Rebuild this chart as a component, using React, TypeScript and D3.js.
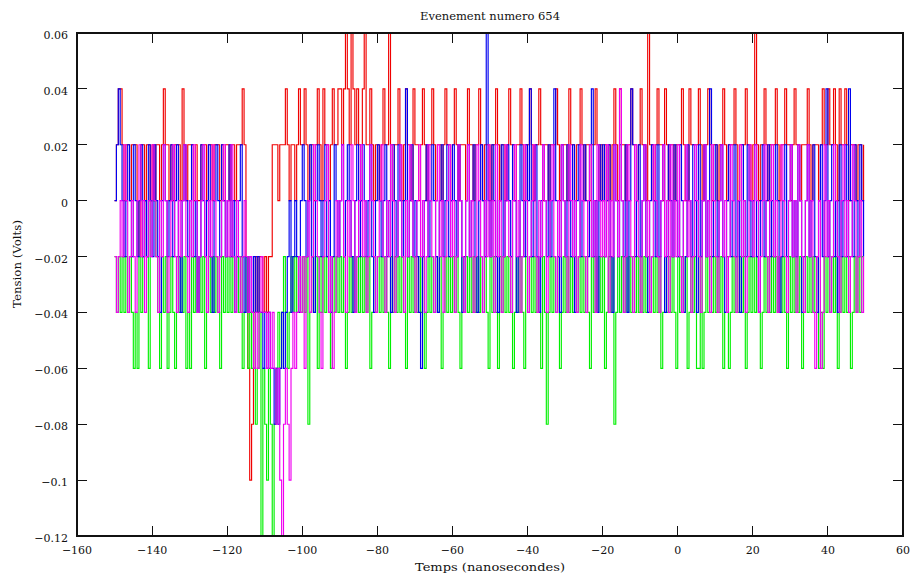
import React from "react";
import * as d3 from "d3";

// sample time base (ns)
const T0 = -150;
const DT = 0.5;

const xTicks = [-160, -140, -120, -100, -80, -60, -40, -20, 0, 20, 40, 60];
const yTicks = [0.06, 0.04, 0.02, 0, -0.02, -0.04, -0.06, -0.08, -0.1, -0.12];

const title = "Evenement numero 654";
const xTitle = "Temps (nanosecondes)";
const yTitle = "Tension (Volts)";

// channel 1 (red)
const red = [
  0, .02, .04, .04, .02, 0, .02, .02, 0, .02, .02, .02, 0, -.02, .02, .02, 0, .02, .02, 0,
  .02, 0, .02, .02, 0, .02, .04, .02, .02, 0, .02, 0, .02, .02, .02, 0, .04, .02, 0, .02,
  .02, .02, 0, .02, 0, 0, .02, .02, .02, 0, .02, .02, 0, .02, .02, .02, 0, .02, 0, .02,
  .02, 0, .02, .02, 0, .02, .02, .02, .04, .02, -.02, -.06, -.1, -.08, -.06, -.02, -.04, -.02, -.02, -.04,
  -.02, -.04, -.02, -.02, .02, .02, .02, 0, .02, .02, .02, .04, .02, 0, .02, .02, 0, .02, .04, .02,
  .02, .04, .02, 0, .02, .02, 0, .02, .04, .02, 0, .04, .02, .02, 0, .02, .04, .02, .02, .04,
  .04, .02, .04, .06, .04, .02, .06, .04, .02, .04, .02, 0, .04, .06, .02, .02, .04, .02, 0, .02,
  .02, 0, .02, .04, .02, .02, .06, .02, 0, .02, .02, .04, .02, 0, .02, .04, .02, .02, 0, .04,
  .02, .02, 0, .02, .04, .02, 0, .02, .02, .04, .02, 0, .02, .02, 0, .02, .04, .02, .02, 0,
  .02, .04, .02, 0, .02, .02, .02, 0, .04, .02, .02, 0, .02, .02, .04, .02, 0, .02, .02, .02,
  0, .02, .02, .04, .02, 0, .02, .02, 0, .02, .04, .02, .02, 0, .02, .02, .04, .02, 0, .02,
  .02, .04, .02, 0, .02, .02, .04, .02, 0, .02, .02, 0, .02, .02, .02, .04, .02, 0, .02, .02,
  .02, 0, .04, .02, .02, 0, .02, .02, .04, .02, 0, .02, .02, 0, .02, .02, .04, .02, 0, .02,
  0, .02, 0, .02, 0, .02, .04, .02, 0, .04, .02, .02, 0, .02, .02, .04, .02, .02, 0, .02,
  .04, .02, .02, 0, .06, .02, .02, 0, .02, .04, .02, .02, 0, .04, .02, 0, .02, .02, 0, .02,
  .02, .02, .04, .02, 0, 0, .04, .02, .02, .02, .02, .04, .02, 0, .02, .02, .04, .02, 0, .02,
  .02, 0, .02, .02, .04, .02, 0, .02, .02, .02, .04, .02, 0, .02, .02, .02, .04, .02, .02, 0,
  .02, .06, .02, 0, .02, .02, .04, .02, 0, .02, .02, .02, .04, .02, 0, .02, .02, .04, .02, .02,
  0, .02, .04, .02, .02, 0, .02, .02, .02, .04, .02, 0, .02, .02, .02, 0, .02, .04, .02, .02,
  .04, .02, .02, .04, .02, 0, .04, .02, .02, .04, .02, 0, .02, .02, .02, 0, .02, .02, 0, .02,
];

// channel 2 (green)
const green = [
  -.02, -.04, -.02, -.04, -.02, -.04, -.02, -.04, -.02, -.04, -.06, -.04, -.06, -.02, -.04, -.02, 0, -.02, -.06, 0,
  0, 0, -.02, -.04, -.06, -.02, -.04, -.02, -.06, -.04, -.02, -.04, -.06, -.02, -.04, -.02, -.04, -.02, -.06, -.04,
  -.06, -.02, -.04, -.02, -.04, -.02, -.04, -.02, -.06, -.04, -.02, -.04, -.02, -.04, -.02, -.04, -.06, -.02, -.04, -.02,
  -.04, -.02, -.04, -.02, -.04, -.02, -.04, -.02, -.06, -.04, -.02, -.06, -.04, -.06, -.04, -.08, -.06, -.04, -.12, -.06,
  -.08, -.1, -.06, -.08, -.12, -.08, -.06, -.04, -.06, -.04, -.02, -.04, -.06, -.04, -.02, -.04, -.02, -.04, -.02, -.04,
  -.02, -.04, -.02, -.08, -.04, -.02, -.04, -.02, -.06, -.02, -.04, -.02, -.04, -.02, -.04, -.06, -.02, -.04, -.02, -.04,
  -.02, -.04, -.02, -.06, -.04, -.02, -.04, -.02, -.04, -.02, -.04, -.02, -.04, -.02, -.04, -.02, -.06, -.04, -.02, -.04,
  -.02, -.04, -.02, -.04, -.02, -.04, -.06, -.02, -.04, -.02, -.04, -.02, -.04, -.02, -.04, -.06, -.02, -.04, -.02, -.04,
  -.02, -.04, -.02, -.04, -.02, -.06, -.04, -.02, -.04, -.02, -.04, -.02, -.04, -.02, -.06, -.04, -.02, -.04, -.02, -.04,
  -.02, -.04, -.02, -.04, -.06, -.02, -.04, -.02, -.04, -.02, -.04, -.02, -.04, -.02, -.04, -.02, -.04, -.02, -.04, -.06,
  -.02, -.04, -.02, -.04, -.06, -.02, -.04, -.02, -.04, -.02, -.04, -.02, -.06, -.04, -.02, -.04, -.02, -.04, -.06, -.02,
  -.04, -.02, -.04, -.02, -.04, -.02, -.04, -.06, -.02, -.04, -.08, -.04, -.02, -.04, -.02, -.04, -.02, -.06, -.04, -.02,
  -.04, -.02, -.04, -.02, -.04, -.02, -.04, -.02, -.04, -.02, -.04, -.02, -.04, -.06, -.02, -.04, -.02, -.04, -.02, -.04,
  -.02, -.06, -.04, -.02, -.04, -.02, -.08, -.04, -.02, -.04, -.02, -.04, -.02, -.04, -.02, -.04, -.02, -.04, -.02, -.04,
  -.02, -.04, -.02, -.04, -.02, -.04, -.02, -.04, -.02, -.04, -.02, -.06, -.04, -.02, -.04, -.02, -.04, -.02, -.04, -.06,
  -.02, -.04, -.02, -.04, -.02, -.06, -.04, -.02, -.04, -.02, -.06, -.06, -.02, -.06, -.04, -.02, -.04, -.02, -.04, -.02,
  -.04, -.02, -.04, -.02, -.06, -.04, -.02, -.06, -.04, -.02, -.04, -.02, -.04, -.02, -.04, -.02, -.06, -.04, -.02, -.04,
  -.02, -.04, -.02, -.04, -.06, -.04, -.02, -.04, -.02, -.04, -.02, -.04, -.02, -.04, -.02, -.04, -.02, -.04, -.06, -.02,
  -.04, -.02, -.04, -.02, -.04, -.02, -.06, -.04, -.02, -.04, -.02, -.04, -.02, -.04, -.02, -.06, -.04, -.06, -.02, -.04,
  -.02, -.04, -.02, -.04, -.02, -.06, -.04, -.02, -.04, -.02, -.04, -.02, -.06, -.04, -.02, -.04, -.02, -.04, -.02, -.02,
];

// channel 3 (blue)
const blue = [
  0, .02, .04, .02, 0, -.02, 0, .02, 0, -.02, .02, 0, -.02, 0, .02, -.02, 0, -.02, .02, 0,
  -.02, .02, 0, -.02, -.04, 0, .02, 0, -.02, 0, .02, -.02, 0, .02, -.02, -.04, 0, .02, 0, -.02,
  0, .02, -.02, 0, -.04, -.02, .02, 0, -.02, 0, .02, -.02, -.04, 0, .02, 0, -.02, .02, 0, -.02,
  0, .02, -.02, 0, -.04, -.02, 0, .02, -.02, -.04, -.02, -.04, -.02, -.04, -.02, -.04, -.02, -.04, -.04, -.06,
  -.04, -.06, -.04, -.06, -.06, -.08, -.06, -.08, -.06, -.04, -.06, -.04, -.02, 0, -.04, -.02, 0, -.02, -.04, 0,
  .02, 0, -.02, 0, .02, -.02, -.04, 0, .02, 0, -.02, 0, .02, -.02, 0, -.04, -.02, .02, 0, -.02,
  0, .02, -.02, 0, .02, 0, -.02, -.04, 0, .02, -.02, 0, .02, 0, -.02, 0, .02, -.02, -.04, 0,
  .02, 0, -.02, 0, .02, -.02, 0, -.04, .02, 0, -.02, .02, 0, -.02, 0, .04, -.02, 0, .02, -.02,
  0, -.02, -.04, -.06, -.02, 0, .02, -.02, 0, .02, 0, -.02, -.04, 0, .02, -.02, 0, .02, -.02, 0,
  .02, 0, -.02, .02, 0, -.04, -.02, 0, .02, -.02, 0, .02, -.02, -.04, 0, .02, 0, -.02, .06, 0,
  -.02, .02, 0, -.02, -.04, 0, .02, -.02, 0, .02, 0, -.02, .02, 0, -.04, -.02, .02, 0, -.02, .02,
  0, .04, -.02, 0, .02, -.02, -.04, 0, .02, 0, -.02, .02, -.02, 0, .04, 0, -.02, -.04, .02, 0,
  -.02, .02, 0, -.02, .02, -.04, 0, .02, -.02, 0, .02, 0, -.02, .02, .04, -.02, 0, -.04, .02, 0,
  .02, -.02, 0, .02, -.02, -.04, .02, 0, -.02, .02, 0, -.02, .02, -.04, 0, .04, .02, -.02, 0, .02,
  -.02, 0, .02, -.02, -.04, 0, .02, 0, -.02, .02, -.02, 0, .02, -.04, -.02, .02, 0, -.02, .02, 0,
  -.02, .02, 0, -.04, -.02, .02, 0, -.02, .02, 0, -.04, .02, -.02, 0, .02, -.02, 0, .04, -.02, 0,
  .02, -.02, 0, .02, -.02, -.04, 0, .02, -.02, 0, .02, -.02, 0, -.04, .02, 0, -.02, .02, 0, -.02,
  0, .02, -.02, -.04, 0, .02, -.02, 0, .02, -.02, 0, -.02, .02, 0, -.04, -.02, 0, .02, -.02, 0,
  .02, -.02, 0, -.02, .02, 0, -.04, -.02, 0, .02, -.02, 0, .02, -.02, -.04, 0, .02, -.02, 0, .04,
  -.02, 0, .02, -.02, 0, -.04, .02, -.02, 0, .02, -.02, .04, 0, -.02, .02, 0, -.02, .02, 0, -.02,
];

// channel 4 (magenta)
const magenta = [
  -.02, -.04, -.02, 0, -.02, .02, 0, -.04, -.02, 0, -.02, -.04, 0, .02, -.02, 0, -.04, -.02, 0, -.02,
  .02, 0, -.02, -.04, 0, -.02, .02, 0, -.04, -.02, 0, .02, -.02, -.04, 0, -.02, 0, .02, -.02, -.04,
  0, -.02, .02, 0, -.04, -.02, 0, .02, -.02, -.04, 0, -.02, .02, 0, -.02, -.04, -.02, 0, .02, -.02,
  0, -.02, .02, -.02, -.04, 0, -.02, -.04, -.02, 0, -.02, -.04, -.02, -.04, -.06, -.04, -.06, -.04, -.02, -.04,
  -.04, -.06, -.04, -.06, -.04, -.06, -.08, -.06, -.1, -.12, -.08, -.06, -.08, -.1, -.06, -.04, -.06, -.04, -.02, -.04,
  -.02, -.06, -.02, 0, -.04, -.02, .02, 0, -.02, -.04, -.06, -.02, 0, .02, -.04, -.02, -.06, -.04, 0, -.02,
  0, .02, -.02, -.04, 0, -.02, .02, 0, -.04, -.02, 0, .02, -.02, 0, -.04, -.02, .02, 0, -.02, -.04,
  -.02, 0, .02, -.02, -.04, 0, -.02, .02, 0, -.04, -.02, 0, .02, -.02, -.04, 0, -.02, .02, 0, -.02,
  -.04, 0, .02, -.02, 0, -.04, -.02, .02, 0, -.02, -.04, 0, .02, -.02, 0, -.04, -.02, 0, .02, -.02,
  0, -.04, -.02, .02, 0, -.02, -.04, 0, .02, -.02, 0, -.04, -.02, .02, 0, -.02, -.04, 0, -.02, .02,
  -.02, 0, -.04, .02, -.02, 0, -.04, -.02, .02, 0, -.02, -.04, 0, .02, -.02, 0, -.04, -.02, .02, 0,
  -.04, -.02, 0, .02, -.02, -.04, 0, -.02, .02, 0, -.04, -.02, 0, .02, -.02, -.04, 0, -.02, .02, 0,
  -.02, -.04, .02, 0, -.02, 0, -.04, -.02, .02, 0, -.02, -.04, 0, .02, -.02, 0, -.04, .02, 0, -.02,
  0, -.02, .02, -.04, 0, -.02, .02, 0, -.02, .04, 0, -.04, -.02, .02, 0, -.02, -.04, .02, 0, -.02,
  -.04, 0, .02, -.02, 0, -.04, -.02, .02, 0, -.02, -.04, 0, .02, -.02, 0, -.04, .02, -.02, 0, -.02,
  .02, -.02, -.04, 0, .02, -.02, 0, -.04, -.02, .02, 0, -.02, -.04, 0, .02, -.02, 0, -.04, .02, 0,
  -.02, -.04, 0, .02, -.02, 0, -.04, -.02, .02, 0, -.02, -.04, 0, .02, -.02, 0, -.04, -.02, .02, 0,
  -.02, .02, 0, -.04, -.02, 0, .02, -.02, -.04, 0, .02, -.02, 0, -.04, -.02, .02, 0, -.02, -.04, 0,
  .02, -.02, 0, -.04, .02, 0, -.02, -.04, 0, .02, -.02, 0, -.04, -.06, -.02, 0, -.06, -.04, .02, -.02,
  0, -.04, -.02, .02, 0, -.02, -.04, 0, .02, -.02, 0, -.04, -.02, .02, 0, -.04, -.02, 0, -.04, -.02,
];

const seriesList = [
  { name: "ch1", values: red, color: "#f00000" },
  { name: "ch2", values: green, color: "#00f000" },
  { name: "ch3", values: blue, color: "#0000f0" },
  { name: "ch4", values: magenta, color: "#f000f0" },
];

const W = 917;
const H = 579;
const L = 77, R = 903, T = 33, B = 536;
const TICK = 10;
const FONT = "'DejaVu Serif', 'Liberation Serif', serif";

function fmt(v: number): string {
  const s = String(+v.toFixed(2));
  return s.replace("-", "\u2212");
}

export default function App() {
  const x = d3.scaleLinear().domain([-160, 60]).range([L, R]);
  const y = d3.scaleLinear().domain([-0.12, 0.06]).range([B, T]);
  const line = d3
    .line<number>()
    .x((_, i) => x(T0 + i * DT))
    .y((d) => y(d))
    .curve(d3.curveStepAfter);

  return (
    <svg
      width={W}
      height={H}
      style={{ position: "absolute", left: 0, top: 0, background: "#fff" }}
      fontFamily={FONT}
    >
      <rect x={0} y={0} width={W} height={H} fill="#fff" />
      <defs>
        <clipPath id="plotclip">
          <rect x={L} y={T - 1} width={R - L} height={B - T + 2} />
        </clipPath>
      </defs>
      <g clipPath="url(#plotclip)">
        {seriesList.map((s) => (
          <path
            key={s.name}
            d={line(s.values) || ""}
            fill="none"
            stroke={s.color}
            strokeWidth={1.15}
          />
        ))}
      </g>
      <g stroke="#111" strokeWidth={1} shapeRendering="crispEdges">
        {xTicks.map((t) => (
          <g key={"xt" + t}>
            <line x1={x(t)} x2={x(t)} y1={B} y2={B - TICK} />
            <line x1={x(t)} x2={x(t)} y1={T} y2={T + TICK} />
          </g>
        ))}
        {yTicks.map((t) => (
          <g key={"yt" + t}>
            <line x1={L} x2={L + TICK} y1={y(t)} y2={y(t)} />
            <line x1={R} x2={R - TICK} y1={y(t)} y2={y(t)} />
          </g>
        ))}
        <rect x={L} y={T} width={R - L} height={B - T} fill="none" strokeWidth={1.3} />
      </g>
      <g fontSize={11} fill="#111">
        {xTicks.map((t) => (
          <text key={"xl" + t} x={x(t)} y={B + 18} textAnchor="middle">
            {fmt(t)}
          </text>
        ))}
        {yTicks.map((t) => (
          <text key={"yl" + t} x={L - 9} y={y(t) + 6} textAnchor="end">
            {fmt(t)}
          </text>
        ))}
      </g>
      <text x={(L + R) / 2} y={20} textAnchor="middle" fontSize={11} fill="#111" textLength={140} lengthAdjust="spacingAndGlyphs">
        {title}
      </text>
      <text x={(L + R) / 2} y={571} textAnchor="middle" fontSize={11} fill="#111" textLength={150} lengthAdjust="spacingAndGlyphs">
        {xTitle}
      </text>
      <text
        transform={`translate(21, ${264}) rotate(-90)`}
        textAnchor="middle"
        fontSize={11}
        fill="#111"
        textLength={88}
        lengthAdjust="spacingAndGlyphs"
      >
        {yTitle}
      </text>
    </svg>
  );
}
